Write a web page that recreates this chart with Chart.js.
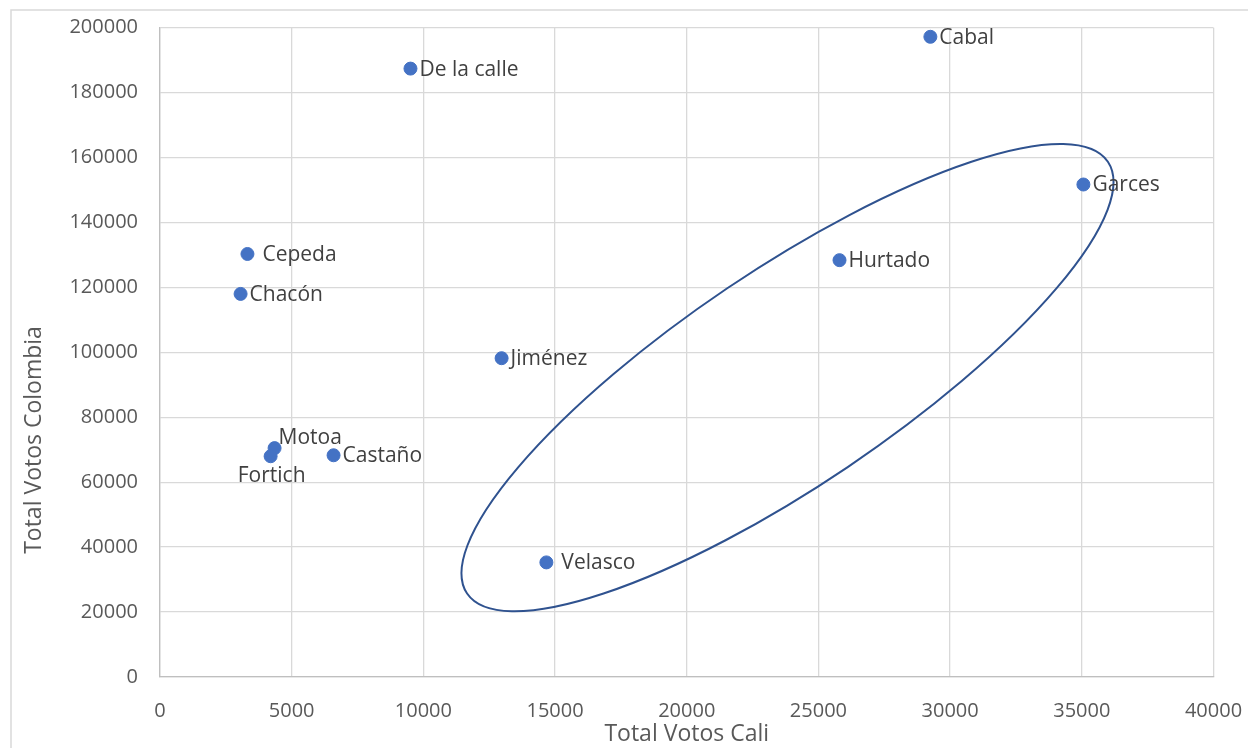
<!DOCTYPE html>
<html>
<head>
<meta charset="utf-8">
<script src="https://cdn.jsdelivr.net/npm/chart.js@4.4.0/dist/chart.umd.min.js"></script>
<style>
  body { margin: 0; background: #ffffff; }
  #wrap { width: 1248px; height: 748px; position: relative; }
</style>
</head>
<body>
<div id="wrap"><canvas id="votos"></canvas></div>
<script>
// Candidatos y votos (Cali en x, Colombia en y)
const candidatos = ['De la calle', 'Cabal', 'Garces', 'Hurtado', 'Cepeda', 'Chacón', 'Jiménez', 'Motoa', 'Fortich', 'Castaño', 'Velasco']
const votosCali = [9510, 29250, 35060, 25800, 3320, 3060, 12970, 4350, 4200, 6590, 14670]
const votosColombia = [187400, 197200, 151700, 128400, 130300, 118000, 98200, 70500, 68000, 68300, 35300]

// Limites y pasos de los ejes
const ejeX = [0, 40000, 5000]
const ejeY = [0, 200000, 20000]

// Elipse que agrupa a Velasco, Hurtado y Garces (extremos del eje mayor en datos)
const elipseA = [11660, 25700]
const elipseB = [35990, 158700]
const elipseRazon = 0.279

// donde va cada etiqueta respecto a su punto
const posEtiqueta = ['r', 'r', 'r', 'r', 'r2', 'r', 'r', 'up', 'down', 'r', 'r2']

const FUENTE = "'Open Sans', 'DejaVu Sans', sans-serif"

let puntos = []
for (let i = 0; i < candidatos.length; i++) {
    puntos.push({ x: votosCali[i], y: votosColombia[i] })
}

// marco gris alrededor del grafico
const marco = {
    id: 'marco',
    beforeDraw(chart) {
        const ctx = chart.ctx
        ctx.save()
        ctx.strokeStyle = '#d9d9d9'
        ctx.lineWidth = 1.5
        ctx.strokeRect(11, 10, 1400, 900)
        ctx.restore()
    }
}

// etiquetas de cada candidato, elipse y titulo del eje y
const extras = {
    id: 'extras',
    afterDatasetsDraw(chart) {
        const ctx = chart.ctx
        const sx = chart.scales.x, sy = chart.scales.y
        ctx.save()

        // elipse
        const ax = sx.getPixelForValue(elipseA[0]), ay = sy.getPixelForValue(elipseA[1])
        const bx = sx.getPixelForValue(elipseB[0]), by = sy.getPixelForValue(elipseB[1])
        const r = Math.hypot(bx - ax, by - ay) / 2
        ctx.beginPath()
        ctx.ellipse((ax + bx) / 2, (ay + by) / 2, r, r * elipseRazon, Math.atan2(by - ay, bx - ax), 0, Math.PI * 2)
        ctx.strokeStyle = '#2f528f'
        ctx.lineWidth = 2
        ctx.stroke()

        // etiquetas
        ctx.font = '21px ' + FUENTE
        ctx.fillStyle = '#404040'
        ctx.textBaseline = 'middle'
        for (let i = 0; i < candidatos.length; i++) {
            const px = sx.getPixelForValue(votosCali[i])
            const py = sy.getPixelForValue(votosColombia[i])
            const pos = posEtiqueta[i]
            if (pos == 'down') {
                ctx.textAlign = 'center'
                ctx.fillText(candidatos[i], px + 1, py + 20)
            } else if (pos == 'up') {
                ctx.textAlign = 'left'
                ctx.fillText(candidatos[i], px + 4, py - 10)
            } else {
                ctx.textAlign = 'left'
                ctx.fillText(candidatos[i], px + (pos == 'r2' ? 15 : 9), py + 1)
            }
        }

        // titulo eje y
        ctx.font = '23px ' + FUENTE
        ctx.fillStyle = '#595959'
        ctx.textAlign = 'center'
        ctx.translate(34, 440)
        ctx.rotate(-Math.PI / 2)
        ctx.fillText('Total Votos Colombia', 0, 0)
        ctx.restore()
    }
}

new Chart(document.getElementById('votos'), {
    type: 'scatter',
    data: {
        datasets: [{
            label: 'Votos',
            data: puntos,
            backgroundColor: '#4472c4',
            borderColor: '#4472c4',
            pointRadius: 6.5,
            pointHoverRadius: 6.5,
            borderWidth: 1
        }]
    },
    options: {
        responsive: true,
        maintainAspectRatio: false,
        animation: false,
        layout: { padding: { top: 27.7, right: 34.5, left: 0, bottom: 0 } },
        plugins: {
            legend: { display: false },
            tooltip: { enabled: false }
        },
        scales: {
            x: {
                min: ejeX[0],
                max: ejeX[1],
                afterFit: function (s) {
                    s.height = 71
                    s.paddingLeft = 0
                    s.paddingRight = 0
                },
                ticks: {
                    stepSize: ejeX[2],
                    padding: 22,
                    color: '#595959',
                    font: { family: FUENTE, size: 20 },
                    callback: function (v) { return String(v) }
                },
                grid: { color: '#d9d9d9', lineWidth: 1.3, drawTicks: false },
                border: { color: '#bfbfbf', width: 1.3 },
                title: {
                    display: true,
                    text: 'Total Votos Cali',
                    color: '#595959',
                    font: { family: FUENTE, size: 23 },
                    padding: { top: -6, bottom: 0 }
                }
            },
            y: {
                min: ejeY[0],
                max: ejeY[1],
                afterFit: function (s) {
                    s.width = 160
                    s.paddingTop = 0
                    s.paddingBottom = 0
                },
                ticks: {
                    stepSize: ejeY[2],
                    padding: 22,
                    color: '#595959',
                    font: { family: FUENTE, size: 20 },
                    callback: function (v) { return String(v) }
                },
                grid: { color: '#d9d9d9', lineWidth: 1.3, drawTicks: false },
                border: { color: '#bfbfbf', width: 1.3 }
            }
        }
    },
    plugins: [marco, extras]
})
</script>
</body>
</html>
